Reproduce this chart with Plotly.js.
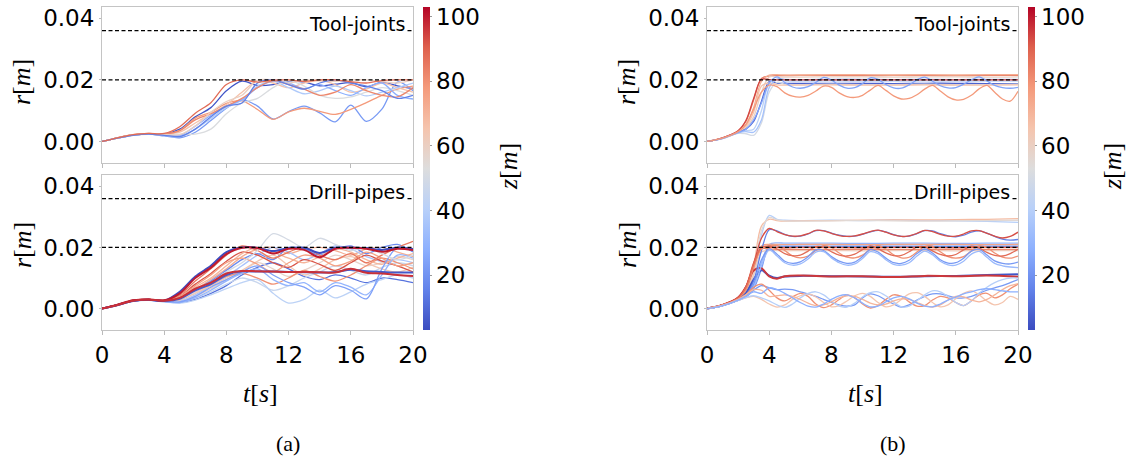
<!DOCTYPE html>
<html><head><meta charset="utf-8">
<script src="https://cdn.plot.ly/plotly-3.0.1.min.js"></script>
<style>html,body{margin:0;padding:0;background:#fff}#chart{width:1134px;height:461px}</style>
</head><body><div id="chart"></div>
<script>
// ---------------- DATA ----------------
const tickT = [0, 4, 8, 12, 16, 20];
const tickR = [0, 0.02, 0.04];
const tickRText = ['0.00', '0.02', '0.04'];
const tickZ = [20, 40, 60, 80, 100];
const zRange = [3, 103];
const limitLines = [0.036, 0.02];
const panelLabels = ['Tool-joints', 'Drill-pipes'];
const caseLabels = ['(a)', '(b)'];

// (a) time grid
const tA = [0,1,2,3,4,5,6,7,8,9,10,11,12,13,14,15,16,17,18,19,20];

// (a) Tool-joints
const zJointsA = [5, 22, 78, 66, 38, 52, 28, 82, 60, 15, 88];
const rJointsA = [
 [0,0.0011,0.0021,0.0025,0.0024,0.0040,0.0080,0.0110,0.0165,0.0196,0.0182,0.0185,0.0196,0.0193,0.0181,0.0186,0.0191,0.0178,0.0192,0.0181,0.0172],
 [0,0.0012,0.0021,0.0024,0.0018,0.0012,0.0030,0.0068,0.0108,0.0135,0.0115,0.0073,0.0097,0.0115,0.0093,0.0064,0.0118,0.0065,0.0105,0.0193,0.0165],
 [0,0.0012,0.0022,0.0025,0.0022,0.0036,0.0076,0.0095,0.0124,0.0132,0.0104,0.0072,0.0096,0.0108,0.0098,0.0088,0.0104,0.0126,0.0150,0.0170,0.0180],
 [0,0.0012,0.0021,0.0025,0.0023,0.0030,0.0060,0.0090,0.0120,0.0160,0.0198,0.0190,0.0175,0.0190,0.0198,0.0185,0.0160,0.0170,0.0190,0.0175,0.0160],
 [0,0.0011,0.0020,0.0024,0.0020,0.0015,0.0040,0.0075,0.0110,0.0135,0.0180,0.0195,0.0175,0.0155,0.0165,0.0180,0.0165,0.0148,0.0160,0.0175,0.0190],
 [0,0.0011,0.0020,0.0023,0.0022,0.0024,0.0024,0.0040,0.0090,0.0125,0.0140,0.0175,0.0198,0.0180,0.0150,0.0140,0.0145,0.0160,0.0175,0.0165,0.0150],
 [0,0.0011,0.0021,0.0024,0.0021,0.0020,0.0050,0.0085,0.0115,0.0135,0.0175,0.0196,0.0190,0.0172,0.0185,0.0165,0.0150,0.0175,0.0190,0.0150,0.0138],
 [0,0.0012,0.0022,0.0026,0.0024,0.0035,0.0070,0.0090,0.0115,0.0140,0.0175,0.0198,0.0185,0.0170,0.0150,0.0160,0.0185,0.0165,0.0150,0.0145,0.0175],
 [0,0.0011,0.0021,0.0025,0.0023,0.0022,0.0050,0.0095,0.0130,0.0150,0.0199,0.0200,0.0190,0.0200,0.0198,0.0195,0.0200,0.0200,0.0195,0.0190,0.0200],
 [0,0.0011,0.0020,0.0024,0.0020,0.0016,0.0040,0.0080,0.0115,0.0125,0.0190,0.0200,0.0185,0.0170,0.0190,0.0200,0.0190,0.0180,0.0165,0.0140,0.0150],
 [0,0.0012,0.0022,0.0026,0.0026,0.0048,0.0092,0.0126,0.0185,0.0200,0.0193,0.0199,0.0200,0.0195,0.0200,0.0200,0.0194,0.0190,0.0198,0.0200,0.0200]
];

// (a) Drill-pipes
const zPipesA = [12, 46, 58, 72, 36, 18, 64, 80, 92, 70, 76, 85, 42, 30, 24, 50, 3, 6, 100, 97];
const rPipesA = [
 [0,0.0012,0.0025,0.0028,0.0024,0.0020,0.0030,0.0050,0.0075,0.0110,0.0135,0.0150,0.0130,0.0105,0.0095,0.0110,0.0100,0.0085,0.0100,0.0095,0.0085],
 [0,0.0012,0.0025,0.0028,0.0023,0.0022,0.0035,0.0055,0.0080,0.0100,0.0085,0.0060,0.0075,0.0100,0.0120,0.0140,0.0125,0.0110,0.0135,0.0150,0.0140],
 [0,0.0012,0.0026,0.0029,0.0025,0.0025,0.0040,0.0065,0.0095,0.0120,0.0150,0.0130,0.0105,0.0125,0.0150,0.0175,0.0160,0.0140,0.0150,0.0170,0.0160],
 [0,0.0012,0.0026,0.0030,0.0026,0.0032,0.0062,0.0095,0.0130,0.0170,0.0195,0.0200,0.0180,0.0195,0.0200,0.0190,0.0175,0.0195,0.0200,0.0185,0.0170],
 [0,0.0012,0.0025,0.0028,0.0024,0.0025,0.0045,0.0075,0.0105,0.0140,0.0175,0.0200,0.0185,0.0160,0.0180,0.0205,0.0195,0.0170,0.0155,0.0160,0.0150],
 [0,0.0012,0.0025,0.0029,0.0024,0.0030,0.0060,0.0090,0.0125,0.0160,0.0180,0.0160,0.0200,0.0195,0.0175,0.0195,0.0205,0.0180,0.0200,0.0210,0.0185],
 [0,0.0012,0.0026,0.0029,0.0025,0.0028,0.0050,0.0075,0.0100,0.0125,0.0155,0.0175,0.0140,0.0110,0.0130,0.0160,0.0170,0.0150,0.0130,0.0120,0.0135],
 [0,0.0013,0.0027,0.0030,0.0025,0.0030,0.0055,0.0080,0.0105,0.0115,0.0100,0.0080,0.0100,0.0125,0.0105,0.0090,0.0110,0.0140,0.0165,0.0150,0.0130],
 [0,0.0013,0.0027,0.0030,0.0027,0.0040,0.0080,0.0115,0.0155,0.0185,0.0175,0.0150,0.0135,0.0160,0.0145,0.0125,0.0150,0.0175,0.0155,0.0140,0.0120],
 [0,0.0012,0.0026,0.0030,0.0026,0.0035,0.0070,0.0100,0.0140,0.0180,0.0200,0.0185,0.0165,0.0150,0.0170,0.0195,0.0185,0.0160,0.0145,0.0165,0.0180],
 [0,0.0013,0.0027,0.0030,0.0026,0.0040,0.0075,0.0110,0.0150,0.0165,0.0145,0.0120,0.0150,0.0175,0.0165,0.0140,0.0155,0.0185,0.0165,0.0140,0.0150],
 [0,0.0013,0.0027,0.0030,0.0027,0.0045,0.0090,0.0130,0.0175,0.0205,0.0190,0.0165,0.0185,0.0200,0.0175,0.0160,0.0180,0.0150,0.0175,0.0200,0.0220],
 [0,0.0011,0.0024,0.0027,0.0022,0.0018,0.0028,0.0045,0.0065,0.0085,0.0095,0.0050,0.0018,0.0030,0.0060,0.0035,0.0055,0.0080,0.0095,0.0110,0.0100],
 [0,0.0012,0.0025,0.0028,0.0023,0.0020,0.0035,0.0060,0.0090,0.0115,0.0130,0.0095,0.0075,0.0085,0.0055,0.0085,0.0070,0.0045,0.0110,0.0175,0.0165],
 [0,0.0012,0.0025,0.0029,0.0024,0.0022,0.0040,0.0070,0.0095,0.0120,0.0140,0.0110,0.0085,0.0070,0.0045,0.0075,0.0060,0.0032,0.0130,0.0200,0.0190],
 [0,0.0012,0.0026,0.0029,0.0025,0.0030,0.0055,0.0085,0.0120,0.0150,0.0190,0.0245,0.0225,0.0200,0.0230,0.0210,0.0190,0.0200,0.0180,0.0160,0.0175],
 [0,0.0012,0.0026,0.0029,0.0026,0.0055,0.0105,0.0140,0.0185,0.0200,0.0199,0.0188,0.0198,0.0199,0.0182,0.0199,0.0199,0.0198,0.0192,0.0199,0.0195],
 [0,0.0012,0.0025,0.0029,0.0025,0.0032,0.0060,0.0080,0.0110,0.0122,0.0121,0.0121,0.0120,0.0119,0.0118,0.0120,0.0127,0.0122,0.0120,0.0118,0.0118],
 [0,0.0013,0.0027,0.0030,0.0027,0.0050,0.0100,0.0134,0.0178,0.0199,0.0198,0.0180,0.0196,0.0192,0.0168,0.0196,0.0199,0.0196,0.0186,0.0196,0.0192],
 [0,0.0012,0.0026,0.0030,0.0026,0.0035,0.0065,0.0085,0.0115,0.0123,0.0122,0.0121,0.0120,0.0120,0.0119,0.0118,0.0130,0.0117,0.0115,0.0110,0.0107]
];

// (b) time grids: coarse (nearly steady lines) and fine (oscillating lines)
const tBc = [0,1,2,2.5,3,3.5,4,4.5,5,6,8,10,12,14,16,18,20];
const tB = [0,1,2,2.5,3,3.5,4,4.5,5,5.5,6,6.5,7,7.5,8,8.5,9,9.5,10,10.5,11,11.5,12,12.5,13,13.5,14,14.5,15,15.5,16,16.5,17,17.5,18,18.5,19,19.5,20];

// (b) Tool-joints, steady
const zJointsBflat = [85, 72, 60, 8, 42, 50, 66, 35, 94];
const rJointsBflat = [
 [0,0.0012,0.0034,0.0065,0.0135,0.0205,0.0212,0.0214,0.0214,0.0215,0.0215,0.0214,0.0215,0.0215,0.0214,0.0215,0.0215],
 [0,0.0011,0.0032,0.0055,0.0110,0.0195,0.0216,0.0217,0.0216,0.0216,0.0217,0.0217,0.0216,0.0217,0.0216,0.0217,0.0217],
 [0,0.0010,0.0030,0.0045,0.0080,0.0160,0.0210,0.0210,0.0209,0.0209,0.0210,0.0210,0.0209,0.0210,0.0210,0.0209,0.0210],
 [0,0.0010,0.0029,0.0040,0.0065,0.0130,0.0195,0.0190,0.0189,0.0189,0.0189,0.0189,0.0188,0.0189,0.0189,0.0188,0.0188],
 [0,0.0010,0.0028,0.0035,0.0040,0.0100,0.0190,0.0200,0.0197,0.0196,0.0197,0.0196,0.0196,0.0197,0.0196,0.0196,0.0196],
 [0,0.0009,0.0026,0.0025,0.0020,0.0060,0.0160,0.0192,0.0186,0.0185,0.0186,0.0185,0.0185,0.0186,0.0185,0.0185,0.0186],
 [0,0.0011,0.0031,0.0050,0.0095,0.0180,0.0190,0.0184,0.0183,0.0183,0.0184,0.0183,0.0183,0.0184,0.0183,0.0183,0.0184],
 [0,0.0010,0.0028,0.0032,0.0030,0.0070,0.0175,0.0203,0.0202,0.0201,0.0202,0.0202,0.0201,0.0202,0.0201,0.0202,0.0202],
 [0,0.0012,0.0035,0.0068,0.0140,0.0202,0.0201,0.0200,0.0200,0.0200,0.0200,0.0200,0.0200,0.0200,0.0200,0.0200,0.0200]
];
// (b) Tool-joints, oscillating
const zJointsBosc = [25, 78];
const rJointsBosc = [
 [0,0.0010,0.0029,0.0040,0.0070,0.0125,
  0.0190,0.0210,0.0192,0.0177,0.0173,0.0178,0.0192,0.0208,0.0200,0.0183,0.0173,0.0175,0.0188,0.0207,0.0202,0.0185,0.0174,
  0.0173,0.0184,0.0200,0.0209,0.0196,0.0181,0.0174,0.0175,0.0186,0.0200,0.0210,0.0197,0.0182,0.0175,0.0173,0.0176],
 [0,0.0011,0.0032,0.0055,0.0105,0.0160,
  0.0183,0.0178,0.0158,0.0147,0.0144,0.0150,0.0164,0.0180,0.0176,0.0158,0.0146,0.0143,0.0150,0.0167,0.0182,0.0166,0.0148,
  0.0138,0.0140,0.0152,0.0170,0.0182,0.0164,0.0145,0.0135,0.0137,0.0150,0.0171,0.0182,0.0160,0.0138,0.0131,0.0163]
];

// (b) Drill-pipes, steady
const zPipesBflat = [40, 68, 55, 30, 75, 62, 20, 82, 90, 5, 96];
const rPipesBflat = [
 [0,0.0010,0.0030,0.0050,0.0110,0.0240,0.0305,0.0292,0.0289,0.0288,0.0289,0.0288,0.0290,0.0288,0.0287,0.0285,0.0282],
 [0,0.0011,0.0033,0.0060,0.0140,0.0270,0.0292,0.0288,0.0286,0.0287,0.0288,0.0289,0.0290,0.0290,0.0291,0.0292,0.0294],
 [0,0.0010,0.0030,0.0052,0.0120,0.0255,0.0298,0.0290,0.0287,0.0286,0.0287,0.0288,0.0287,0.0286,0.0287,0.0288,0.0289],
 [0,0.0010,0.0028,0.0040,0.0075,0.0150,0.0210,0.0215,0.0214,0.0214,0.0214,0.0213,0.0214,0.0214,0.0213,0.0214,0.0214],
 [0,0.0011,0.0032,0.0058,0.0130,0.0205,0.0210,0.0210,0.0209,0.0210,0.0210,0.0209,0.0210,0.0210,0.0210,0.0209,0.0210],
 [0,0.0011,0.0030,0.0050,0.0110,0.0185,0.0190,0.0190,0.0189,0.0190,0.0190,0.0189,0.0190,0.0190,0.0189,0.0190,0.0190],
 [0,0.0010,0.0027,0.0038,0.0065,0.0130,0.0205,0.0205,0.0204,0.0204,0.0204,0.0204,0.0204,0.0204,0.0204,0.0204,0.0204],
 [0,0.0012,0.0034,0.0065,0.0140,0.0195,0.0195,0.0194,0.0194,0.0194,0.0194,0.0194,0.0194,0.0194,0.0194,0.0194,0.0194],
 [0,0.0012,0.0036,0.0072,0.0150,0.0200,0.0200,0.0200,0.0199,0.0200,0.0200,0.0199,0.0200,0.0200,0.0199,0.0200,0.0200],
 [0,0.0011,0.0030,0.0050,0.0095,0.0125,0.0108,0.0100,0.0105,0.0107,0.0106,0.0105,0.0104,0.0106,0.0107,0.0110,0.0112],
 [0,0.0012,0.0036,0.0070,0.0125,0.0132,0.0105,0.0098,0.0106,0.0108,0.0105,0.0106,0.0103,0.0107,0.0106,0.0108,0.0104]
];
// (b) Drill-pipes, oscillating
const zPipesBosc = [15, 93, 80, 88, 22, 32, 22, 80, 65, 40, 70, 28];
const rPipesBosc = [
 [0,0.0010,0.0029,0.0045,0.0090,0.0190,
  0.0258,0.0254,0.0243,0.0236,0.0237,0.0244,0.0255,0.0255,0.0247,0.0240,0.0236,0.0237,0.0243,0.0251,0.0256,0.0251,0.0242,
  0.0236,0.0237,0.0245,0.0255,0.0254,0.0245,0.0238,0.0235,0.0240,0.0250,0.0254,0.0247,0.0236,0.0227,0.0224,0.0226],
 [0,0.0012,0.0036,0.0070,0.0145,0.0230,
  0.0262,0.0252,0.0242,0.0237,0.0238,0.0245,0.0256,0.0254,0.0246,0.0239,0.0236,0.0238,0.0244,0.0252,0.0257,0.0250,0.0241,
  0.0236,0.0238,0.0246,0.0256,0.0252,0.0243,0.0237,0.0237,0.0244,0.0254,0.0255,0.0246,0.0237,0.0231,0.0236,0.0250],
 [0,0.0011,0.0033,0.0062,0.0135,0.0195,
  0.0205,0.0206,0.0190,0.0172,0.0166,0.0172,0.0190,0.0206,0.0200,0.0182,0.0168,0.0166,0.0175,0.0194,0.0207,0.0195,0.0176,
  0.0166,0.0168,0.0185,0.0203,0.0204,0.0186,0.0170,0.0165,0.0170,0.0188,0.0205,0.0200,0.0182,0.0168,0.0165,0.0172],
 [0,0.0012,0.0035,0.0070,0.0145,0.0200,
  0.0204,0.0195,0.0180,0.0173,0.0175,0.0188,0.0203,0.0200,0.0186,0.0175,0.0172,0.0178,0.0193,0.0205,0.0196,0.0182,0.0173,
  0.0174,0.0186,0.0201,0.0202,0.0189,0.0177,0.0172,0.0177,0.0192,0.0204,0.0198,0.0184,0.0174,0.0172,0.0180,0.0194],
 [0,0.0010,0.0028,0.0042,0.0080,0.0160,
  0.0195,0.0178,0.0155,0.0148,0.0153,0.0170,0.0192,0.0190,0.0170,0.0155,0.0148,0.0152,0.0170,0.0193,0.0185,0.0165,0.0150,
  0.0148,0.0158,0.0180,0.0195,0.0182,0.0160,0.0149,0.0150,0.0165,0.0188,0.0194,0.0175,0.0156,0.0148,0.0146,0.0152],
 [0,0.0010,0.0027,0.0038,0.0070,0.0140,
  0.0192,0.0172,0.0150,0.0142,0.0146,0.0162,0.0185,0.0186,0.0166,0.0150,0.0142,0.0146,0.0164,0.0186,0.0180,0.0160,0.0145,
  0.0142,0.0150,0.0172,0.0188,0.0176,0.0155,0.0143,0.0142,0.0155,0.0178,0.0187,0.0168,0.0148,0.0140,0.0136,0.0134],
 [0,0.0010,0.0028,0.0040,0.0060,0.0075,
  0.0068,0.0062,0.0064,0.0062,0.0055,0.0048,0.0040,0.0030,0.0020,0.0012,0.0008,0.0012,0.0035,0.0048,0.0042,0.0028,0.0015,
  0.0005,0.0012,0.0028,0.0040,0.0048,0.0048,0.0042,0.0035,0.0035,0.0040,0.0050,0.0060,0.0068,0.0075,0.0085,0.0095],
 [0,0.0011,0.0030,0.0045,0.0070,0.0080,
  0.0060,0.0035,0.0025,0.0038,0.0050,0.0040,0.0015,0.0003,0.0012,0.0030,0.0045,0.0035,0.0015,0.0002,0.0010,0.0030,0.0045,
  0.0040,0.0022,0.0008,0.0010,0.0028,0.0040,0.0035,0.0020,0.0010,0.0025,0.0045,0.0050,0.0035,0.0045,0.0065,0.0080],
 [0,0.0010,0.0027,0.0035,0.0040,0.0030,
  0.0015,0.0005,0.0012,0.0030,0.0042,0.0048,0.0038,0.0020,0.0006,0.0010,0.0025,0.0042,0.0050,0.0040,0.0020,0.0006,0.0012,
  0.0030,0.0048,0.0052,0.0040,0.0020,0.0006,0.0012,0.0032,0.0050,0.0058,0.0045,0.0025,0.0012,0.0020,0.0040,0.0030],
 [0,0.0010,0.0027,0.0036,0.0042,0.0035,
  0.0025,0.0012,0.0004,0.0015,0.0035,0.0050,0.0055,0.0045,0.0025,0.0008,0.0005,0.0018,0.0038,0.0052,0.0055,0.0042,0.0022,
  0.0006,0.0008,0.0025,0.0045,0.0058,0.0055,0.0040,0.0020,0.0010,0.0025,0.0050,0.0070,0.0085,0.0095,0.0100,0.0100],
 [0,0.0011,0.0030,0.0045,0.0062,0.0060,
  0.0040,0.0042,0.0045,0.0040,0.0030,0.0018,0.0010,0.0012,0.0022,0.0035,0.0042,0.0040,0.0030,0.0018,0.0012,0.0015,0.0025,
  0.0032,0.0030,0.0020,0.0010,0.0005,0.0012,0.0028,0.0040,0.0038,0.0028,0.0022,0.0030,0.0045,0.0062,0.0075,0.0082],
 [0,0.0010,0.0028,0.0040,0.0055,0.0050,
  0.0068,0.0062,0.0050,0.0035,0.0020,0.0008,0.0005,0.0015,0.0030,0.0042,0.0045,0.0035,0.0018,0.0006,0.0008,0.0022,0.0035,
  0.0040,0.0032,0.0018,0.0008,0.0006,0.0015,0.0028,0.0038,0.0048,0.0055,0.0062,0.0065,0.0062,0.0058,0.0055,0.0055]
];

// ---------------- RENDER ----------------
const W = 1134, H = 461;
const coolwarm = [[0,'rgb(59,76,192)'],[0.125,'rgb(98,130,234)'],[0.25,'rgb(141,176,254)'],[0.375,'rgb(184,208,249)'],
  [0.5,'rgb(221,221,221)'],[0.625,'rgb(245,196,173)'],[0.75,'rgb(244,154,123)'],[0.875,'rgb(222,96,77)'],[1,'rgb(180,4,38)']];
const cwRGB = coolwarm.map(s => [s[0], s[1].match(/\d+/g).map(Number)]);
function colorOf(z) {
  let f = (z - zRange[0]) / (zRange[1] - zRange[0]);
  f = Math.max(0, Math.min(1, f));
  for (let i = 1; i < cwRGB.length; i++) {
    if (f <= cwRGB[i][0]) {
      const a = cwRGB[i-1], b = cwRGB[i];
      const u = (f - a[0]) / (b[0] - a[0]);
      const c = a[1].map((v, k) => Math.round(v + u * (b[1][k] - v)));
      return 'rgb(' + c.join(',') + ')';
    }
  }
  return coolwarm[coolwarm.length-1][1];
}
const traces = [];
function addLines(t, rows, zs, xa, ya, thick) {
  rows.forEach((r, i) => {
    const z = zs[i];
    const w = (thick && (z >= 95 || z <= 6)) ? 2.0 : 1.3;
    traces.push({type:'scatter', mode:'lines', x:t, y:r, xaxis:xa, yaxis:ya,
      line:{color:colorOf(z), width:w, shape:'spline', smoothing:0.9}, hoverinfo:'skip', showlegend:false});
  });
}
addLines(tA, rJointsA, zJointsA, 'x', 'y', false);
addLines(tA, rPipesA, zPipesA, 'x2', 'y2', true);
addLines(tBc, rJointsBflat, zJointsBflat, 'x3', 'y3', false);
addLines(tB, rJointsBosc, zJointsBosc, 'x3', 'y3', false);
addLines(tBc, rPipesBflat, zPipesBflat, 'x4', 'y4', true);
addLines(tB, rPipesBosc, zPipesBosc, 'x4', 'y4', true);

// dashed limit lines
[['x','y'],['x2','y2'],['x3','y3'],['x4','y4']].forEach(ax => {
  limitLines.forEach(v => {
    traces.push({type:'scatter', mode:'lines', x:[tickT[0], tickT[tickT.length-1]], y:[v, v], xaxis:ax[0], yaxis:ax[1],
      line:{color:'#000', width:1.2, dash:'4px,2.5px'}, hoverinfo:'skip', showlegend:false});
  });
});

// colour bars
function cbar(xpx) {
  return {type:'scatter', mode:'markers', x:[-50,-50], y:[0,0], xaxis:'x', yaxis:'y', showlegend:false, hoverinfo:'skip',
    marker:{color:zRange, cmin:zRange[0], cmax:zRange[1], colorscale:coolwarm, showscale:true, size:1,
      colorbar:{x:xpx/W, xanchor:'left', xref:'paper', y:(H-7)/H, yanchor:'top', yref:'paper',
        len:323, lenmode:'pixels', thickness:7, thicknessmode:'pixels', xpad:0, ypad:0, outlinewidth:0,
        tickvals:tickZ, ticks:'outside', ticklen:2, tickcolor:'#999',
        tickfont:{family:'DejaVu Sans', size:23, color:'#000'}}}};
}
traces.push(cbar(423));
traces.push(cbar(1028));

const px = p => p / W, py = p => (H - p) / H;
function xAx(dom, anchor, labels) {
  return {domain:dom, anchor:anchor, range:[0,20], tickvals:tickT, showticklabels:labels, ticks:'outside', ticklen:4,
    tickcolor:'#bbb', showline:true, mirror:true, linecolor:'#c4c4c4', linewidth:1, showgrid:false, zeroline:false,
    tickfont:{family:'DejaVu Sans', size:23, color:'#000'}};
}
function yAx(dom, anchor) {
  return {domain:dom, anchor:anchor, range:[-0.007, 0.0437], tickvals:tickR, ticktext:tickRText, ticks:'outside', ticklen:2,
    tickcolor:'#bbb', showline:true, mirror:true, linecolor:'#c4c4c4', linewidth:1, showgrid:false, zeroline:false,
    tickfont:{family:'DejaVu Sans', size:23, color:'#000'}};
}
const domXa = [px(102), px(413)], domXb = [px(707), px(1018)];
const domYt = [py(163), py(7)], domYb = [py(330), py(175)];

const serif = {family:'Liberation Serif', size:26, color:'#000'};
const ann = [];
[[22, 82],[22, 245],[627, 82],[627, 245]].forEach(p => ann.push({xref:'paper', yref:'paper', x:px(p[0]), y:py(p[1]),
  text:'<i>r</i>[<i>m</i>]', textangle:-90, showarrow:false, font:serif, xanchor:'center', yanchor:'middle'}));
[260, 865].forEach(x => ann.push({xref:'paper', yref:'paper', x:px(x), y:py(393), text:'<i>t</i>[<i>s</i>]',
  showarrow:false, font:serif, xanchor:'center', yanchor:'middle'}));
[[508, caseLabels[0], 288],[1112, caseLabels[1], 893]].forEach(p => {
  ann.push({xref:'paper', yref:'paper', x:px(p[0]), y:py(167), text:'<i>z</i>[<i>m</i>]', textangle:-90,
    showarrow:false, font:serif, xanchor:'center', yanchor:'middle'});
  ann.push({xref:'paper', yref:'paper', x:px(p[2]), y:py(443), text:p[1], showarrow:false,
    font:{family:'Liberation Serif', size:22, color:'#000'}, xanchor:'center', yanchor:'middle'});
});
[['x','y',0],['x2','y2',1],['x3','y3',0],['x4','y4',1]].forEach(a => ann.push({xref:a[0], yref:a[1], x:19.6, y:0.0383,
  text:panelLabels[a[2]], showarrow:false, xanchor:'right', yanchor:'middle', bgcolor:'#fff', borderpad:1,
  font:{family:'DejaVu Sans', size:19, color:'#000'}}));

const layout = {
  width:W, height:H, margin:{l:0, r:0, t:0, b:0}, paper_bgcolor:'#fff', plot_bgcolor:'#fff', showlegend:false,
  xaxis:xAx(domXa,'y',false), yaxis:yAx(domYt,'x'),
  xaxis2:xAx(domXa,'y2',true), yaxis2:yAx(domYb,'x2'),
  xaxis3:xAx(domXb,'y3',false), yaxis3:yAx(domYt,'x3'),
  xaxis4:xAx(domXb,'y4',true), yaxis4:yAx(domYb,'x4'),
  annotations:ann
};
Plotly.newPlot('chart', traces, layout, {staticPlot:true, displayModeBar:false});
</script></body></html>
